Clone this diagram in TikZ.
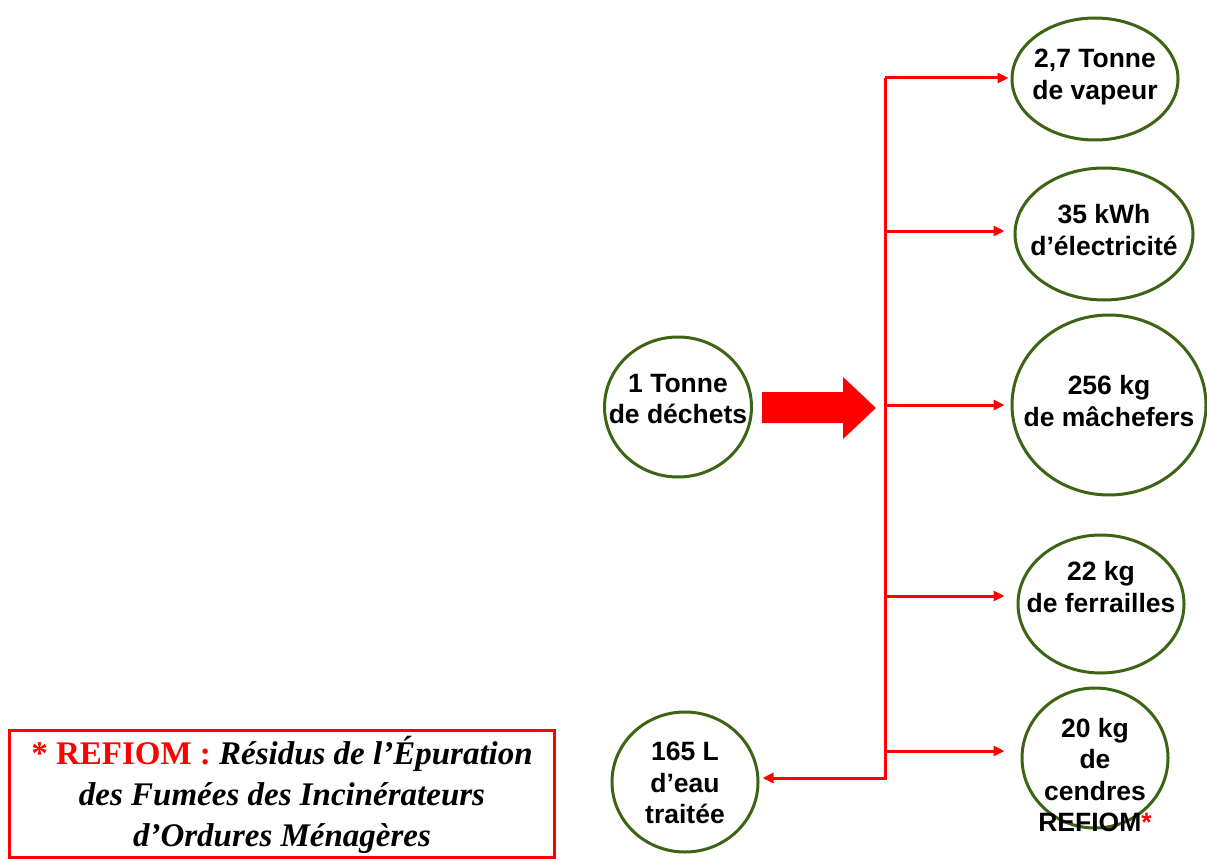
\documentclass[tikz,border=0pt]{standalone}
\usepackage{fontspec}
\setmainfont{Liberation Serif}
\newfontfamily\arial{Liberation Sans}
\usetikzlibrary{arrows.meta,shapes.geometric}
\definecolor{ringgreen}{RGB}{60,100,20}
\definecolor{flowred}{RGB}{255,0,0}
\tikzset{
  ring/.style={draw=ringgreen, line width=3pt, ellipse, inner sep=0pt},
  lbl/.style={align=center, inner sep=0pt, font=\arial\bfseries\fontsize{26.5}{31.5}\selectfont},
  flow/.style={draw=flowred, line width=3pt, -{Triangle[length=11pt,width=10pt]}},
}
\begin{document}
\begin{tikzpicture}[x=1pt,y=-1pt]
\useasboundingbox (0,0) rectangle (1207,861);

% input and output quantities
\node[ring, minimum width=147pt, minimum height=140pt] (in)  at (678,407) {};
\node[ring, minimum width=166pt, minimum height=122pt] (vap) at (1095,79) {};
\node[ring, minimum width=178pt, minimum height=132pt] (ele) at (1104,234) {};
\node[ring, minimum width=194pt, minimum height=180pt] (mac) at (1109,405) {};
\node[ring, minimum width=166pt, minimum height=138pt] (fer) at (1101,604) {};
\node[ring, minimum width=146pt, minimum height=140pt] (cen) at (1095,758) {};
\node[ring, minimum width=146pt, minimum height=140pt] (eau) at (685,782) {};

\node[lbl] (tin)  at (678,399) {1 Tonne\\de déchets};
\node[lbl] (tvap) at (1095,77) {2,7 Tonne\\de vapeur};
\node[lbl] (tele) at (1104,230) {35 kWh\\d’électricité};
\node[lbl] (tmac) at (1109,401) {256 kg\\de mâchefers};
\node[lbl] (tfer) at (1101,587) {22 kg\\de ferrailles};
\node[lbl] (tcen) at (1095,775) {20 kg\\de\\cendres\\REFIOM\textcolor{flowred}{*}};
\node[lbl] (teau) at (685,783) {165 L\\d’eau\\traitée};

% big transfer arrow
\fill[flowred] (762,392) -- (843,392) -- (843,377) -- (876,408)
  -- (843,439) -- (843,423) -- (762,423) -- cycle;

% distribution trunk and branches
\coordinate (top) at (885,78);
\coordinate (bot) at (885,778);
\draw[flow] (top) -- ([xshift=-2pt]vap.west |- top);
\draw[flow] (885,231) -- ([xshift=-9pt]ele.west |- 0,231);
\draw[flow] (885,405) -- ([xshift=-6pt]mac.west |- 0,405);
\draw[flow] (885,596) -- ([xshift=-12pt]fer.west |- 0,596);
\draw[flow] (885,751) -- ([xshift=-16pt]cen.west |- 0,751);
\draw[flow, line join=miter] (top) -- (bot) -- ([xshift=3pt]eau.east |- bot);

% footnote box
\node[draw=flowred, line width=3.5pt, minimum width=545pt, minimum height=127pt,
      inner sep=0pt] (note) at (282,794) {};
\node[align=center, inner sep=0pt, font=\bfseries\itshape\fontsize{33}{41}\selectfont]
  (tnote) at (282,795)
  {\textcolor{flowred}{\upshape * REFIOM :} Résidus de l’Épuration\\
   des Fumées des Incinérateurs\\
   d’Ordures Ménagères};
\end{tikzpicture}
\end{document}
